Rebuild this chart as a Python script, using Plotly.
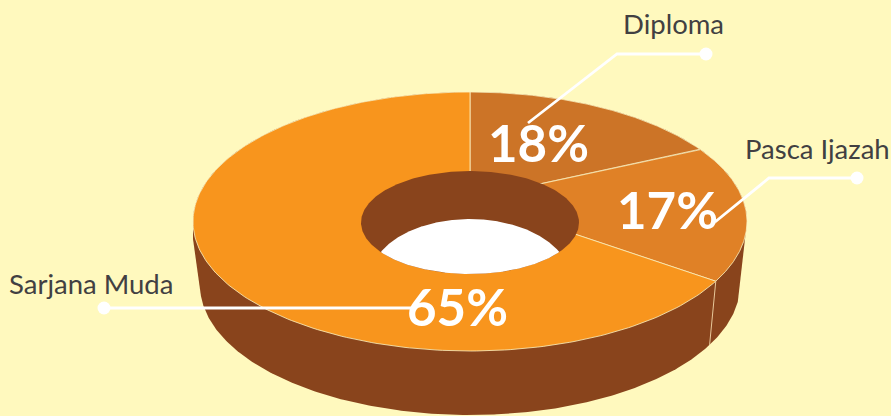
import numpy as np
import plotly.graph_objects as go

# ---- data ----
categories = ["Diploma", "Pasca Ijazah", "Sarjana Muda"]
shares = [18, 17, 65]
slice_colors = ["#CC7427", "#E08126", "#F8951D"]

# ---- style / geometry ----
BG = "#FFF9BE"
SIDE = "#89441C"
EDGE = "#FDF3C0"
TEXT = "#414042"
W, H = 891, 416
CX = 470
APEX_Y, FAR, NEAR = 199, 107, 152       # perspective centre of the top disc
K = (NEAR - FAR) / (NEAR + FAR)
B = FAR * (1 + K)
TOP_RX, TOP_RY, TOP_CY = 277, 129.5, 221.5
A = TOP_RX * np.sqrt(1 - K ** 2)
BOT_RX, BOT_RY, BOT_CY = 270, 130, 285
HOLE_RX, HOLE_RY, HOLE_CY = 109, 51.5, 222.5
WELL_RX, WELL_RY, WELL_CY = 100, 60, 279
SHOULDER_Y = 239


def disc_point(theta):
    """theta clockwise from 12 o'clock on the true disc -> picture coordinates."""
    u, v = np.sin(theta), np.cos(theta)
    d = 1 + K * v
    return CX + A * u / d, APEX_Y - B * v / d


def poly(fig, x, y, color, line=None, lw=0):
    fig.add_trace(go.Scatter(
        x=list(x), y=list(y), mode="lines", fill="toself", fillcolor=color,
        line=dict(color=line or color, width=lw), hoverinfo="skip", showlegend=False))


fig = go.Figure()

# side wall: upper half of the top ellipse + shoulders + lower half of the base ellipse
t_up = np.linspace(np.pi, 2 * np.pi, 200)
t_lo = np.linspace(0, np.pi, 300)
poly(fig,
     np.r_[CX + TOP_RX * np.cos(t_up), CX + TOP_RX - 2, CX + BOT_RX * np.cos(t_lo), CX - TOP_RX],
     np.r_[TOP_CY + TOP_RY * np.sin(t_up), SHOULDER_Y, BOT_CY + BOT_RY * np.sin(t_lo), SHOULDER_Y],
     SIDE)

# wedges of the top face, driven by the shares
edges = np.r_[0, np.cumsum(shares)] / sum(shares) * 2 * np.pi
for i in range(len(shares)):
    th = np.linspace(edges[i], edges[i + 1], 240)
    ax, ay = disc_point(th)
    poly(fig, np.r_[CX, ax, CX], np.r_[APEX_Y, ay, APEX_Y], slice_colors[i], EDGE, 0.8)

# seam on the side wall, under the boundary between slices 2 and 3
sx, sy = disc_point(edges[2])
phi = np.arctan2((sy - TOP_CY) / TOP_RY, (sx - CX) / TOP_RX)
fig.add_trace(go.Scatter(
    x=[sx, CX + BOT_RX * np.cos(phi)], y=[sy, BOT_CY + BOT_RY * np.sin(phi)],
    mode="lines", line=dict(color="#E8C89A", width=1), hoverinfo="skip", showlegend=False))

# hole
t = np.linspace(0, 2 * np.pi, 361)
hx, hy = CX + HOLE_RX * np.cos(t), HOLE_CY + HOLE_RY * np.sin(t)
poly(fig, hx, hy, SIDE)

# see-through part of the hole
xs = np.linspace(CX - WELL_RX, CX + WELL_RX, 301)
well_top = WELL_CY - WELL_RY * np.sqrt(np.clip(1 - ((xs - CX) / WELL_RX) ** 2, 0, 1))
hole_bot = HOLE_CY + HOLE_RY * np.sqrt(np.clip(1 - ((xs - CX) / HOLE_RX) ** 2, 0, 1))
keep = well_top <= hole_bot
poly(fig, np.r_[xs[keep], xs[keep][::-1]], np.r_[well_top[keep], hole_bot[keep][::-1]], "#FFFFFF")

# leader lines
leaders = [
    ([706, 617, 528], [54, 54, 123]),
    ([857, 769, 715], [178, 178, 222]),
    ([104, 415], [308, 308]),
]
for lx, ly in leaders:
    fig.add_trace(go.Scatter(x=lx, y=ly, mode="lines", line=dict(color="#FFFFFF", width=2.8),
                             hoverinfo="skip", showlegend=False))
    fig.add_trace(go.Scatter(x=lx[:1], y=ly[:1], mode="markers",
                             marker=dict(color="#FFFFFF", size=13), hoverinfo="skip", showlegend=False))

# text
pct_pos = [(538, 142), (667, 209), (457, 306)]
name_pos = [(673, 23), (817, 148), (91, 283)]
for c, s, (px, py), (nx, ny) in zip(categories, shares, pct_pos, name_pos):
    fig.add_annotation(x=px, y=py, text=f"<b>{s}%</b>", showarrow=False, xanchor="center", yanchor="middle",
                       font=dict(family="Lato", size=51, color="#FFFFFF"))
    fig.add_annotation(x=nx, y=ny, text=c, showarrow=False, xanchor="center", yanchor="middle",
                       font=dict(family="Lato", size=27.5, color=TEXT))

fig.update_layout(
    width=W, height=H, margin=dict(l=0, r=0, t=0, b=0),
    paper_bgcolor=BG, plot_bgcolor=BG, showlegend=False,
    xaxis=dict(range=[0, W], visible=False, fixedrange=True),
    yaxis=dict(range=[H, 0], visible=False, fixedrange=True),
)
fig.write_html("out.html", config={"displayModeBar": False},
               post_script="document.body.style.margin='0';document.body.style.overflow='hidden';")
